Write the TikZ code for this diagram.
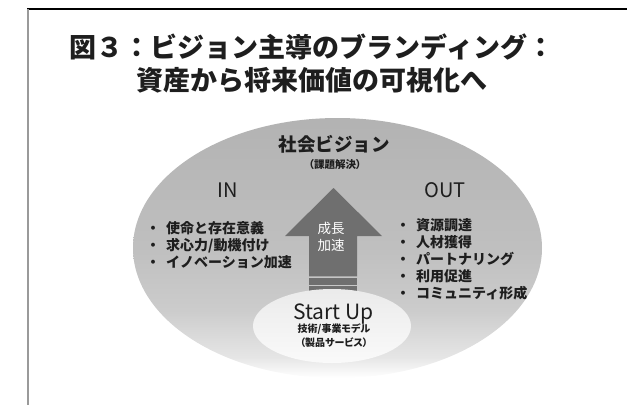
\documentclass[tikz,border=0pt]{standalone}
\usepackage{fontspec}
\setmainfont{Noto Sans CJK JP}
\newfontfamily\jpp[RawFeature=+palt]{Noto Sans CJK JP}
\definecolor{arrowgray}{HTML}{6F6F6F}
\definecolor{framegray}{HTML}{9A9A9A}
\definecolor{ink}{HTML}{1E1E1E}
\pgfdeclareverticalshading{bigfade}{100bp}{%
  color(0bp)=(white); color(25bp)=(white); color(29bp)=(white!90!black);
  color(38bp)=(white!80!black); color(50bp)=(white!75!black);
  color(75bp)=(white!70!black); color(100bp)=(white!70!black)}
\pgfdeclareverticalshading{smallfade}{100bp}{%
  color(0bp)=(white!98!black); color(25bp)=(white!98!black);
  color(75bp)=(white!92!black); color(100bp)=(white!92!black)}
\tikzset{
  titletext/.style={font=\fontsize{27}{30}\selectfont\bfseries, text=ink, inner sep=0pt},
  headtext/.style={font=\fontsize{18.5}{20}\selectfont\bfseries, text=ink, inner sep=0pt},
  subtext/.style={font=\jpp\fontsize{10.5}{12}\selectfont\bfseries, text=ink, inner sep=0pt},
  inouttext/.style={font=\fontsize{20}{22}\selectfont, text=ink, inner sep=0pt},
  listtext/.style={font=\fontsize{14}{17}\selectfont\bfseries, text=ink, inner sep=0pt, align=left, anchor=west},
  arrowtext/.style={font=\fontsize{13.5}{15}\selectfont, text=white, inner sep=0pt},
  startup/.style={font=\fontsize{21}{23}\selectfont, text=ink, inner sep=0pt, anchor=base},
  smalltext/.style={font=\jpp\fontsize{10}{12}\selectfont\bfseries, text=ink, inner sep=0pt},
}
\newcommand{\bul}{・\hspace{6pt}}
\begin{document}
\begin{tikzpicture}[x=1pt,y=-1pt]
\useasboundingbox (0,0) rectangle (627,405);
% frame
\draw[black, line width=1.2pt] (27,9) -- (627,9);
\draw[framegray, line width=2pt] (27.5,9) -- (27.5,405);
% big ellipse
\shade[shading=bigfade] (337.5,248) ellipse [x radius=204.5, y radius=130];
% arrow
\fill[arrowgray] (333.5,188) -- (382,236) -- (357,236) -- (357,276.3) -- (309,276.3) -- (309,236) -- (285,236) -- cycle;
\fill[arrowgray] (309,277.8) rectangle (357,284.6);
\fill[arrowgray] (309,286.1) rectangle (357,300);
% small ellipse
\shade[shading=smallfade] (332,326) ellipse [x radius=79, y radius=37];
% title
\node[titletext] (t1) at (312,47) {図３：ビジョン主導のブランディング：};
\node[titletext] (t2) at (312,80) {資産から将来価値の可視化へ};
% vision
\node[headtext] (vision) at (334,144) {社会ビジョン};
\node[subtext] (kadai) at (335,165) {（課題解決）};
\node[inouttext] (in) at (228,190) {IN};
\node[inouttext] (out) at (445,190) {OUT};
% lists
\node[listtext] (inlist) at (146,245) {\bul 使命と存在意義\\ \bul 求心力/動機付け\\ \bul イノベーション加速};
\node[listtext] (outlist) at (396,259) {\bul 資源調達\\ \bul 人材獲得\\ \bul パートナリング\\ \bul 利用促進\\ \bul コミュニティ形成};
% arrow text
\node[arrowtext] (grow1) at (331,228) {成長};
\node[arrowtext] (grow2) at (331,245) {加速};
% start up
\node[startup] (su) at (333.5,319) {Start Up};
\node[smalltext] (tech) at (334,329) {技術/事業モデル};
\node[smalltext] (prod) at (334,343) {（製品サービス）};
\end{tikzpicture}
\end{document}
